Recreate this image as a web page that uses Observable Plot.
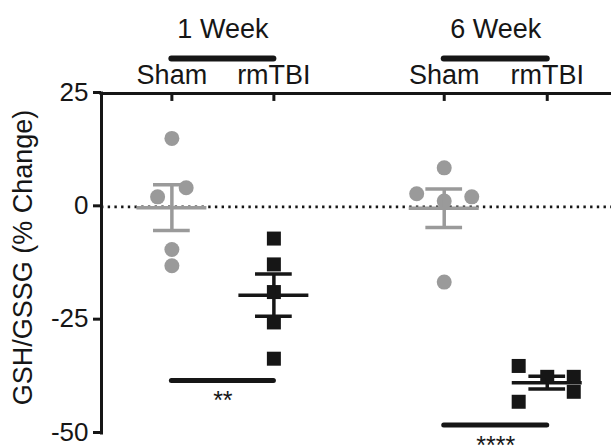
<!DOCTYPE html>
<html><head><meta charset="utf-8">
<script src="https://cdn.jsdelivr.net/npm/d3@7"></script>
<script src="https://cdn.jsdelivr.net/npm/@observablehq/plot@0.6"></script>
<style>body{margin:0;background:#fff;} svg{display:block}</style>
</head><body><div id="chart"></div>
<script>
// ---- data ----
const groups = ["Sham", "rmTBI", "Sham", "rmTBI"];
const groupWeek = ["1 Week", "1 Week", "6 Week", "6 Week"];
const groupPos = [1, 2, 3.67, 4.68];
const weekNames = ["1 Week", "6 Week"];
const sham1 = [15.1, 4.2, 2.2, -9.4, -13.0];
const tbi1 = [-7.0, -12.7, -18.8, -25.5, -33.5];
const sham6 = [8.6, 2.9, 2.2, 1.3, -16.6];
const tbi6 = [-35.1, -37.5, -37.5, -40.8, -43.0];
const sham1Jitter = [0, 0.14, -0.14, 0, 0];
const tbi1Jitter = [0, 0, 0, 0, 0];
const sham6Jitter = [0, -0.27, 0.27, 0, 0];
const tbi6Jitter = [-0.28, 0, 0.26, 0.26, -0.28];
const yTicks = [25, 0, -25, -50];
const yTickLabels = ["25", "0", "-25", "-50"];
const sigLabels = ["**", "****"];
const sigLevels = [-38.3, -48.1];
const yTitle = "GSH/GSSG (% Change)";

// ---- build tables ----
const seriesVals = [sham1, tbi1, sham6, tbi6];
const seriesJit = [sham1Jitter, tbi1Jitter, sham6Jitter, tbi6Jitter];
const points = [];
seriesVals.forEach((vals, i) => vals.forEach((v, j) => points.push({
  gi: i, group: groups[i], x: groupPos[i] + seriesJit[i][j], y: v
})));
const stats = seriesVals.map((vals, i) => {
  const m = d3.mean(vals);
  const sem = d3.deviation(vals) / Math.sqrt(vals.length);
  return {gi: i, x: groupPos[i], mean: m, lo: m - sem, hi: m + sem, color: groups[i] === "Sham" ? "#9a9a9a" : "#161616"};
});
const weeks = weekNames.map(w => {
  const ps = groupPos.filter((_, i) => groupWeek[i] === w);
  return {name: w, x1: d3.min(ps), x2: d3.max(ps), cx: d3.mean(ps)};
});
const sigs = weeks.map((w, i) => ({...w, label: sigLabels[i], y: sigLevels[i]}));

const xMin = 0.31, xMax = 5.31;
const ink = "#161616";
const gray = "#9a9a9a";
const font = "Liberation Sans, Arial, Helvetica, sans-serif";
const fs = 27;

const chart = Plot.plot({
  width: 611, height: 446,
  marginLeft: 101, marginRight: 0, marginTop: 93, marginBottom: 13,
  style: {fontFamily: font, background: "#fff", color: ink},
  x: {type: "linear", domain: [xMin, xMax], axis: null},
  y: {domain: [-50, 25], axis: null},
  marks: [
    // zero dotted line
    Plot.ruleY([0], {stroke: ink, strokeWidth: 2.6, strokeDasharray: "2.4,4.3"}),
    // axes lines
    Plot.ruleY([25], {stroke: ink, strokeWidth: 3, strokeLinecap: "square"}),
    Plot.ruleX([xMin], {y1: () => -50, y2: () => 25, stroke: ink, strokeWidth: 3, strokeLinecap: "square"}),
    Plot.axisY(yTicks, {tickSize: 8, tickPadding: 5, fontSize: 26, strokeWidth: 3, label: null, fill: ink, stroke: ink, dy: -1,
      tickFormat: d => yTickLabels[yTicks.indexOf(d)]}),
    Plot.text([yTitle], {frameAnchor: "left", textAnchor: "middle", rotate: -90, dx: -78, dy: -6, fontSize: fs, fill: ink}),
    // top category ticks and labels
    Plot.ruleX(groupPos, {x: d => d, y1: () => 25, y2: () => 23.25, stroke: ink, strokeWidth: 3}),
    Plot.text(groupPos, {x: d => d, text: (d, i) => groups[i], frameAnchor: "top", lineAnchor: "bottom", dy: -10, fontSize: fs, fill: ink}),
    // week labels and bars
    Plot.text(weeks, {x: "cx", text: "name", frameAnchor: "top", lineAnchor: "bottom", dy: -56, fontSize: fs, fill: ink}),
    Plot.ruleY(weeks, {y: () => 32.7, x1: "x1", x2: "x2", stroke: ink, strokeWidth: 6, strokeLinecap: "round"}),
    // points
    Plot.dot(points.filter(d => d.group === "Sham"), {x: "x", y: "y", r: 7.5, fill: gray, symbol: "circle"}),
    Plot.dot(points.filter(d => d.group === "rmTBI"), {x: "x", y: "y", r: 7.9, fill: ink, symbol: "square"}),
    // error bars
    Plot.ruleX(stats, {x: "x", y1: "lo", y2: "hi", stroke: "color", strokeWidth: 3.5}),
    Plot.ruleY(stats, {y: "mean", x1: d => d.x - 0.343, x2: d => d.x + 0.343, stroke: "color", strokeWidth: 3.5}),
    Plot.ruleY(stats, {y: "lo", x1: d => d.x - 0.18, x2: d => d.x + 0.18, stroke: "color", strokeWidth: 3.5}),
    Plot.ruleY(stats, {y: "hi", x1: d => d.x - 0.18, x2: d => d.x + 0.18, stroke: "color", strokeWidth: 3.5}),
    // significance
    Plot.ruleY(sigs, {y: "y", x1: "x1", x2: "x2", stroke: ink, strokeWidth: 5, strokeLinecap: "round"}),
    Plot.text(sigs, {x: "cx", y: "y", text: "label", lineAnchor: "bottom", dy: 29, fontSize: 25, fill: ink})
  ]
});
document.getElementById("chart").appendChild(chart);
</script>
</body></html>
